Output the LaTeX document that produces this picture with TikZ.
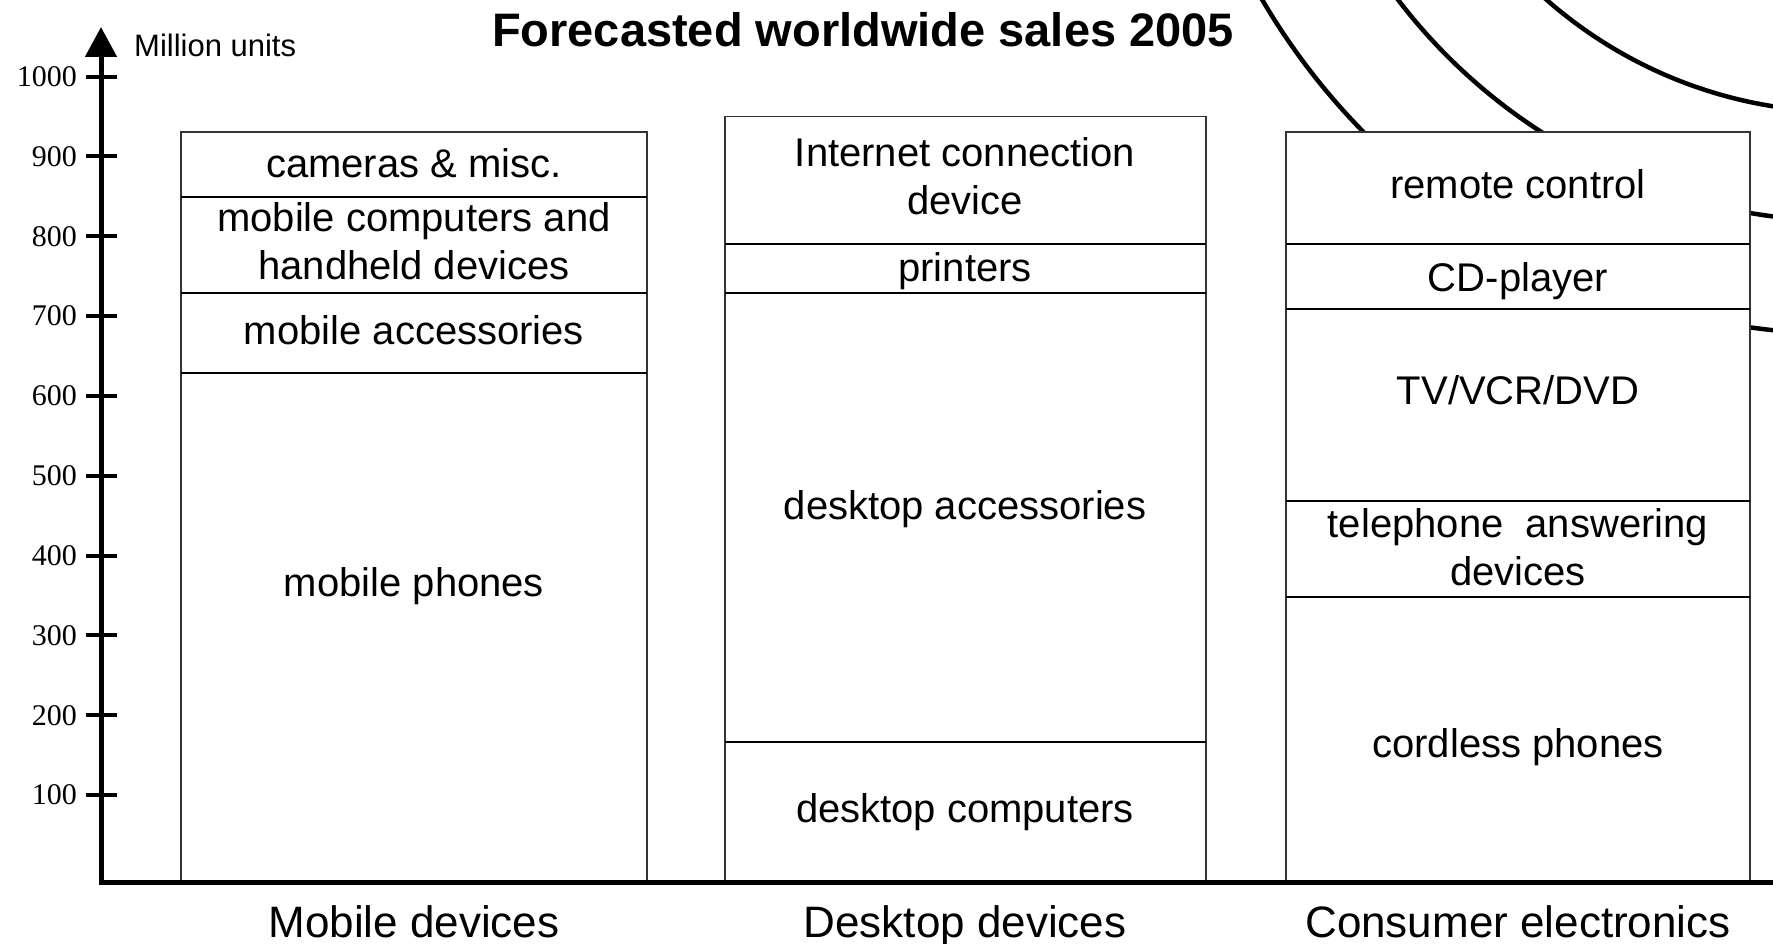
\documentclass[tikz,border=0pt]{standalone}
\usepackage{fontspec}
\setmainfont{Liberation Sans}
\newfontfamily\serifnum{Liberation Serif}
\usetikzlibrary{arrows.meta}
\tikzset{
  axisline/.style={line width=5pt, black},
  tickline/.style={line width=4pt, black},
  seg/.style={line width=1.5pt, draw=black!80, fill=white},
  divline/.style={line width=1.3pt, black},
  arcline/.style={line width=4.5pt, black},
  lbl/.style={font=\fontsize{40}{48}\selectfont, align=center, inner sep=0pt},
  cat/.style={font=\fontsize{44}{52}\selectfont, inner sep=0pt, anchor=base},
  ticklbl/.style={font=\serifnum\fontsize{30}{36}\selectfont, anchor=east, inner sep=0pt},
  ttl/.style={font=\bfseries\fontsize{47}{52}\selectfont, inner sep=0pt},
}
\begin{document}
\begin{tikzpicture}[x=1pt,y=-1pt]
\useasboundingbox (0,0) rectangle (1773,944);
\begin{scope}
\clip (0,0) rectangle (1773,944);
% concentric arcs
\coordinate (cc) at (1845,-341);
\draw[arcline] (cc) circle[radius=675pt];
\draw[arcline] (cc) circle[radius=562pt];
\draw[arcline] (cc) circle[radius=453pt];

% Mobile devices stack
\draw[seg] (181,132) rectangle (647,882);
\draw[divline] (181,197) -- (647,197);
\draw[divline] (181,293) -- (647,293);
\draw[divline] (181,373) -- (647,373);
\node[lbl] (m4) at (414,163) {cameras \& misc.};
\node[lbl] (m3) at (414,241) {mobile computers and\\handheld devices};
\node[lbl] (m2) at (414,330) {mobile accessories};
\node[lbl] (m1) at (414,586) {mobile phones};

% Desktop devices stack
\draw[seg] (725,116.5) rectangle (1206,882);
\draw[divline] (725,244) -- (1206,244);
\draw[divline] (725,293) -- (1206,293);
\draw[divline] (725,742) -- (1206,742);
\node[lbl] (d4) at (965,176) {Internet connection\\device};
\node[lbl] (d3) at (965,271) {printers};
\node[lbl] (d2) at (965,509) {desktop accessories};
\node[lbl] (d1) at (965,812) {desktop computers};

% Consumer electronics stack
\draw[seg] (1286,132) rectangle (1750,882);
\draw[divline] (1286,244) -- (1750,244);
\draw[divline] (1286,309) -- (1750,309);
\draw[divline] (1286,501) -- (1750,501);
\draw[divline] (1286,597) -- (1750,597);
\node[lbl] (c5) at (1518,184) {remote control};
\node[lbl] (c4) at (1518,281) {CD-player};
\node[lbl] (c3) at (1518,390) {TV/VCR/DVD};
\node[lbl] (c2) at (1518,547) {telephone~ answering\\devices};
\node[lbl] (c1) at (1518,747) {cordless phones};

% axes
\coordinate (O) at (101,882);
\coordinate (ytop) at (101,27);
\coordinate (xend) at (1775,882);
\draw[axisline] (98.5,882) -- (xend);
\draw[axisline,-{Triangle[width=31pt,length=30pt]}] (O) -- (ytop);
\foreach \v in {100,200,...,1000}{
  \draw[tickline] (86,{875-0.7985*\v}) -- (117,{875-0.7985*\v});
  \node[ticklbl] (t\v) at (77,{875-0.7985*\v}) {\v};
}
\node[font=\fontsize{31}{36}\selectfont, anchor=base west, inner sep=0pt] (unit) at (134,57) {Million units};
\node[ttl] (title) at (863,30) {Forecasted worldwide sales 2005};

\node[cat] (catm) at (414,937) {Mobile devices};
\node[cat] (catd) at (965,937) {Desktop devices};
\node[cat] (catc) at (1518,937) {Consumer electronics};
\end{scope}
\end{tikzpicture}
\end{document}
